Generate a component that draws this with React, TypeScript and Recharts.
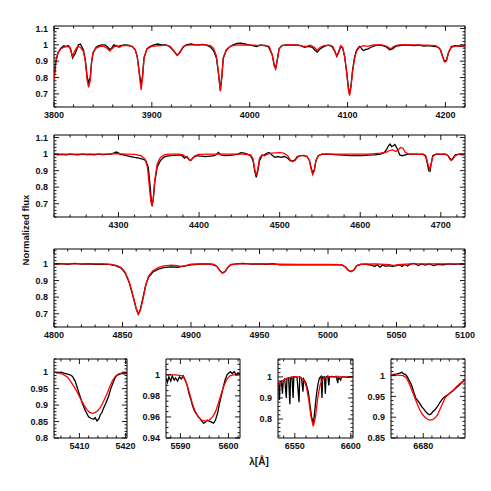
import React from 'react'
import { LineChart, Line, XAxis, YAxis, ReferenceArea } from 'recharts'

// ---- spectra: [wavelength (A), normalized flux] ----

// panel 1, 3800-4220
const obs1 = [
  [3800, 0.8], [3802, 0.9], [3804, 0.95], [3807, 0.98], [3810, 0.995], [3812, 0.99], [3815, 0.995],
  [3817, 0.975], [3819, 0.92], [3822, 0.95], [3825, 1.0], [3827, 1.005], [3830, 0.97], [3832, 0.91],
  [3834, 0.8], [3835.4, 0.77], [3837, 0.8], [3838.5, 0.9], [3840, 0.95], [3843, 0.985], [3846, 0.995],
  [3849, 1.0], [3852, 1.0], [3855, 0.985], [3857, 0.97], [3859, 0.98], [3861, 1.0], [3863, 0.995],
  [3866, 0.99], [3868, 0.995], [3872, 1.0], [3876, 0.998], [3880, 0.99], [3883, 0.97], [3885, 0.93],
  [3887, 0.84], [3889, 0.75], [3890.5, 0.81], [3892, 0.92], [3895, 0.975], [3898, 0.99], [3902, 1.0],
  [3906, 1.005], [3910, 1.0], [3914, 1.0], [3918, 0.99], [3922, 0.965], [3926, 0.935], [3929, 0.955],
  [3932, 0.985], [3935, 1.0], [3940, 1.005], [3944, 1.0], [3948, 1.0], [3952, 1.003], [3956, 0.998],
  [3960, 0.985], [3963, 0.965], [3966, 0.92], [3968, 0.83], [3970, 0.725], [3971.5, 0.81], [3973, 0.92],
  [3976, 0.965], [3979, 0.985], [3983, 1.0], [3987, 1.008], [3991, 1.01], [3995, 1.005], [3999, 1.0],
  [4003, 0.995], [4007, 0.99], [4011, 1.0], [4015, 0.995], [4019, 0.99], [4023, 0.94], [4025, 0.88],
  [4026.5, 0.855], [4028, 0.9], [4030, 0.975], [4033, 0.995], [4037, 1.0], [4042, 0.998], [4047, 1.0],
  [4052, 0.995], [4056, 0.985], [4060, 0.99], [4064, 0.985], [4067, 0.965], [4069, 0.955], [4072, 0.975],
  [4076, 0.99], [4080, 0.998], [4084, 0.99], [4087, 0.96], [4089, 0.93], [4091, 0.955], [4093, 0.99],
  [4095, 0.98], [4097, 0.93], [4099, 0.84], [4101, 0.73], [4102, 0.7], [4103.5, 0.75], [4105, 0.84],
  [4107, 0.92], [4109, 0.965], [4112, 0.99], [4114, 0.98], [4116, 0.965], [4118, 0.97], [4121, 0.975],
  [4124, 0.985], [4128, 0.995], [4132, 0.998], [4136, 0.995], [4140, 0.985], [4143, 0.97], [4146, 0.975],
  [4149, 0.99], [4153, 0.995], [4158, 1.0], [4163, 0.998], [4168, 0.995], [4173, 0.998], [4178, 0.992],
  [4183, 0.995], [4188, 0.99], [4192, 0.988], [4195, 0.97], [4197, 0.93], [4199, 0.9], [4201, 0.905],
  [4203, 0.95], [4206, 0.99], [4210, 0.995], [4215, 0.99], [4220, 0.995],
]
const mod1 = [
  [3800, 0.78], [3802, 0.9], [3804, 0.95], [3807, 0.975], [3810, 0.985], [3813, 0.99], [3816, 0.985],
  [3819, 0.93], [3821, 0.96], [3824, 0.99], [3827, 0.985], [3830, 0.96], [3832, 0.9], [3834, 0.78],
  [3835.4, 0.74], [3837, 0.78], [3838.5, 0.9], [3840, 0.955], [3843, 0.98], [3847, 0.99], [3851, 0.99],
  [3854, 0.98], [3857, 0.962], [3859, 0.975], [3862, 0.99], [3864, 0.99], [3867, 0.985], [3870, 0.995],
  [3875, 0.995], [3880, 0.99], [3883, 0.97], [3885, 0.93], [3887, 0.83], [3889, 0.725], [3890.5, 0.8],
  [3892, 0.92], [3895, 0.975], [3900, 0.99], [3908, 0.995], [3915, 0.998], [3919, 0.99], [3922, 0.965],
  [3926, 0.937], [3929, 0.96], [3932, 0.99], [3936, 0.998], [3945, 1.0], [3955, 1.0], [3960, 0.995],
  [3963, 0.98], [3966, 0.93], [3968, 0.83], [3970, 0.715], [3971.5, 0.8], [3973, 0.92], [3976, 0.97],
  [3980, 0.99], [3985, 0.998], [3995, 1.0], [4005, 0.998], [4010, 0.995], [4015, 0.998], [4020, 0.99],
  [4023, 0.94], [4025, 0.87], [4026.5, 0.853], [4028, 0.9], [4030, 0.975], [4033, 0.995], [4040, 1.0],
  [4050, 0.998], [4055, 0.99], [4058, 0.99], [4062, 0.998], [4066, 0.985], [4069, 0.965], [4072, 0.985],
  [4076, 0.995], [4082, 0.998], [4085, 0.99], [4087, 0.96], [4089, 0.93], [4091, 0.96], [4093, 0.995],
  [4095, 0.985], [4097, 0.93], [4099, 0.83], [4101, 0.72], [4102, 0.69], [4103.5, 0.74], [4105, 0.83],
  [4107, 0.91], [4109, 0.96], [4112, 0.985], [4116, 0.995], [4121, 0.99], [4126, 1.0], [4135, 1.0],
  [4140, 0.99], [4144, 0.975], [4147, 0.99], [4152, 1.0], [4165, 1.0], [4180, 0.998], [4190, 0.995],
  [4194, 0.98], [4197, 0.93], [4199, 0.895], [4201, 0.9], [4203, 0.95], [4206, 0.985], [4210, 0.99],
  [4215, 0.995], [4220, 0.99],
]

// panel 2, 4220-4730
const obs2 = [
  [4220, 1.0], [4225, 0.995], [4230, 0.998], [4235, 0.995], [4240, 1.0], [4245, 0.997], [4250, 0.995],
  [4255, 1.0], [4260, 0.996], [4265, 0.998], [4270, 0.995], [4275, 1.0], [4280, 0.997], [4285, 0.998],
  [4290, 1.0], [4294, 1.005], [4297, 1.012], [4300, 1.008], [4302, 0.998], [4306, 0.995], [4310, 0.99],
  [4315, 0.985], [4320, 0.98], [4325, 0.976], [4330, 0.97], [4334, 0.96], [4337, 0.92], [4339, 0.82],
  [4341, 0.71], [4342, 0.695], [4343, 0.72], [4345, 0.83], [4348, 0.92], [4352, 0.96], [4356, 0.98],
  [4360, 0.988], [4365, 0.99], [4370, 0.992], [4375, 0.995], [4379, 0.99], [4382, 0.975], [4385, 0.985],
  [4388, 0.965], [4390, 0.962], [4393, 0.98], [4397, 0.99], [4402, 0.988], [4408, 0.985], [4414, 0.988],
  [4419, 0.99], [4422, 1.0], [4424, 1.01], [4427, 0.995], [4432, 0.99], [4438, 0.992], [4443, 0.995],
  [4448, 1.0], [4452, 1.008], [4456, 1.005], [4460, 1.0], [4464, 0.99], [4467, 0.96], [4469, 0.9],
  [4471, 0.86], [4473, 0.9], [4475, 0.96], [4478, 0.99], [4481, 0.995], [4484, 1.005], [4487, 1.01],
  [4490, 0.995], [4494, 0.98], [4498, 0.985], [4502, 0.98], [4506, 0.985], [4510, 0.975], [4513, 0.96],
  [4516, 0.958], [4519, 0.965], [4522, 0.985], [4526, 0.99], [4530, 0.992], [4534, 0.985], [4537, 0.96],
  [4539, 0.92], [4541, 0.885], [4543, 0.905], [4545, 0.96], [4548, 0.99], [4552, 0.998], [4558, 1.0],
  [4565, 0.998], [4572, 0.995], [4580, 0.993], [4588, 0.99], [4595, 0.992], [4602, 0.99], [4610, 0.993],
  [4618, 0.995], [4625, 1.0], [4630, 1.01], [4633, 1.03], [4635, 1.05], [4637, 1.06], [4639, 1.045],
  [4641, 1.05], [4643, 1.058], [4645, 1.04], [4647, 1.02], [4649, 0.995], [4652, 0.99], [4656, 0.995],
  [4660, 1.0], [4666, 1.0], [4672, 0.998], [4678, 1.0], [4681, 0.99], [4683, 0.95], [4685, 0.9],
  [4686.5, 0.895], [4688, 0.94], [4690, 0.99], [4694, 1.0], [4700, 0.998], [4706, 1.0], [4709, 0.99],
  [4711, 0.975], [4713, 0.965], [4715, 0.975], [4718, 0.995], [4723, 1.0], [4727, 0.995], [4730, 0.998],
]
const mod2 = [
  [4220, 1.0], [4240, 1.0], [4260, 1.0], [4280, 1.0], [4298, 1.003], [4310, 1.0], [4320, 0.998],
  [4328, 0.99], [4333, 0.97], [4336, 0.92], [4338, 0.82], [4340, 0.72], [4341.5, 0.685], [4343, 0.72],
  [4345, 0.84], [4348, 0.94], [4352, 0.98], [4357, 0.995], [4362, 1.0], [4375, 1.0], [4380, 0.995],
  [4383, 0.985], [4386, 0.975], [4389, 0.96], [4392, 0.975], [4395, 0.99], [4400, 0.998], [4420, 1.0],
  [4440, 1.0], [4455, 1.0], [4464, 0.995], [4467, 0.97], [4469, 0.91], [4471, 0.87], [4473, 0.91],
  [4475, 0.975], [4478, 0.995], [4481, 0.99], [4485, 1.0], [4490, 1.005], [4500, 1.008], [4505, 1.005],
  [4510, 0.99], [4513, 0.965], [4516, 0.955], [4519, 0.96], [4522, 0.98], [4525, 0.99], [4530, 0.99],
  [4534, 0.985], [4537, 0.96], [4539, 0.91], [4541, 0.875], [4543, 0.9], [4545, 0.96], [4548, 0.99],
  [4552, 1.0], [4570, 1.0], [4590, 1.0], [4610, 1.0], [4625, 1.005], [4632, 1.01], [4636, 1.02],
  [4640, 1.025], [4644, 1.015], [4647, 1.025], [4650, 1.04], [4653, 1.035], [4656, 1.01], [4660, 1.0],
  [4670, 1.0], [4678, 0.998], [4682, 0.98], [4684, 0.94], [4686, 0.905], [4688, 0.94], [4690, 0.985],
  [4694, 1.0], [4705, 1.0], [4709, 0.99], [4711, 0.97], [4713, 0.96], [4715, 0.97], [4718, 0.99],
  [4722, 1.0], [4730, 1.0],
]

// panel 3, 4800-5100
const obs3 = [
  [4800, 1.0], [4805, 1.002], [4810, 0.998], [4815, 1.003], [4820, 0.999], [4825, 1.001], [4830, 0.998],
  [4835, 0.999], [4840, 0.997], [4845, 0.99], [4849, 0.975], [4852, 0.945], [4855, 0.885], [4858, 0.795],
  [4860, 0.73], [4861.5, 0.7], [4863, 0.725], [4865, 0.8], [4867, 0.875], [4869, 0.92], [4872, 0.95],
  [4876, 0.968], [4880, 0.978], [4885, 0.982], [4890, 0.98], [4893, 0.984], [4896, 0.988], [4900, 0.995],
  [4905, 0.998], [4910, 1.0], [4915, 0.998], [4919, 0.985], [4921, 0.96], [4923, 0.945], [4925, 0.955],
  [4927, 0.98], [4929, 0.995], [4933, 1.0], [4938, 1.003], [4944, 0.999], [4950, 1.0], [4955, 0.998],
  [4960, 1.001], [4965, 0.994], [4970, 0.995], [4975, 0.996], [4980, 0.994], [4985, 0.995], [4990, 0.996],
  [4995, 0.994], [5000, 0.995], [5005, 0.996], [5010, 0.994], [5013, 0.98], [5015, 0.96], [5017, 0.955],
  [5019, 0.965], [5021, 0.99], [5024, 0.997], [5028, 0.998], [5032, 0.992], [5034, 0.985], [5036, 0.995],
  [5038, 0.98], [5040, 0.993], [5042, 0.985], [5044, 0.99], [5047, 0.985], [5049, 0.988], [5052, 0.995],
  [5054, 0.985], [5056, 0.997], [5058, 0.988], [5060, 0.999], [5063, 1.003], [5066, 0.99], [5068, 1.0],
  [5071, 0.993], [5074, 1.0], [5077, 0.99], [5080, 0.998], [5084, 0.995], [5088, 1.0], [5092, 0.997],
  [5096, 1.0], [5100, 0.998],
]
const mod3 = [
  [4800, 1.0], [4820, 1.0], [4835, 1.0], [4842, 0.997], [4846, 0.99], [4849, 0.978], [4852, 0.95],
  [4855, 0.89], [4858, 0.8], [4860, 0.73], [4861.5, 0.695], [4863, 0.72], [4865, 0.79], [4867, 0.87],
  [4869, 0.925], [4872, 0.958], [4876, 0.978], [4880, 0.988], [4886, 0.993], [4890, 0.99], [4893, 0.985],
  [4896, 0.99], [4900, 0.998], [4910, 1.0], [4917, 0.998], [4919, 0.985], [4921, 0.96], [4923, 0.943],
  [4925, 0.955], [4927, 0.98], [4929, 0.997], [4935, 1.0], [4950, 1.0], [4965, 0.998], [4980, 0.997],
  [5000, 0.997], [5010, 0.995], [5013, 0.98], [5015, 0.96], [5017, 0.953], [5019, 0.965], [5021, 0.99],
  [5024, 0.998], [5035, 1.0], [5045, 0.995], [5048, 0.99], [5051, 0.995], [5060, 1.0], [5080, 1.0],
  [5100, 1.0],
]

// panel A, HeII 5411
const obsA = [
  [5404.5, 1.0], [5405.2, 0.998], [5406, 1.0], [5406.8, 0.996], [5407.4, 0.994], [5408, 0.992],
  [5408.5, 0.987], [5409.1, 0.972], [5409.5, 0.955], [5409.9, 0.937], [5410.3, 0.92], [5410.6, 0.906],
  [5411, 0.893], [5411.3, 0.883], [5411.7, 0.872], [5412, 0.864], [5412.5, 0.86], [5413.1, 0.857],
  [5413.4, 0.862], [5413.8, 0.852], [5414.2, 0.858], [5414.5, 0.87], [5414.9, 0.878], [5415.2, 0.89],
  [5415.7, 0.905], [5416.3, 0.926], [5416.8, 0.95], [5417.4, 0.972], [5417.8, 0.985], [5418.1, 0.99],
  [5418.6, 0.993], [5419.2, 0.996], [5419.8, 0.995], [5420.3, 0.997],
]
const modA = [
  [5404.5, 1.0], [5405.5, 0.998], [5406.5, 0.993], [5407.4, 0.985], [5408.1, 0.972], [5408.8, 0.957],
  [5409.5, 0.94], [5410.2, 0.92], [5410.9, 0.902], [5411.6, 0.886], [5412.2, 0.878], [5412.8, 0.875],
  [5413.4, 0.877], [5413.9, 0.882], [5414.5, 0.892], [5415, 0.905], [5415.5, 0.92], [5416, 0.935],
  [5416.6, 0.957], [5417.2, 0.975], [5417.8, 0.988], [5418.5, 0.995], [5419.3, 0.998], [5420.3, 0.999],
]

// panel B, OIII 5592
const obsB = [
  [5587, 0.997], [5587.3, 0.993], [5587.6, 0.998], [5588, 0.994], [5588.3, 0.999], [5588.7, 0.995],
  [5589, 0.997], [5589.4, 0.994], [5589.8, 0.998], [5590.2, 0.996], [5590.6, 0.999], [5591, 0.995],
  [5591.4, 0.99], [5591.8, 0.982], [5592.1, 0.978], [5592.5, 0.971], [5592.9, 0.966], [5593.3, 0.963],
  [5593.8, 0.96], [5594.3, 0.957], [5594.8, 0.954], [5595.2, 0.955], [5595.6, 0.957], [5596, 0.956],
  [5596.5, 0.955], [5596.9, 0.954], [5597.3, 0.957], [5597.7, 0.963], [5598.1, 0.972], [5598.5, 0.98],
  [5598.9, 0.988], [5599.3, 0.995], [5599.7, 1.0], [5600.1, 1.002], [5600.4, 1.003], [5600.8, 1.001],
  [5601.2, 1.003], [5601.6, 1.0], [5602, 1.002], [5602.4, 1.001],
]
const modB = [
  [5587, 1.0], [5589, 1.0], [5590.5, 0.999], [5591.2, 0.993], [5591.8, 0.984], [5592.4, 0.974],
  [5593, 0.966], [5593.7, 0.96], [5594.4, 0.957], [5595.2, 0.956], [5596, 0.957], [5596.7, 0.96],
  [5597.3, 0.965], [5597.9, 0.973], [5598.5, 0.982], [5599.1, 0.99], [5599.7, 0.996], [5600.3, 0.999],
  [5601, 1.0], [5602.4, 1.0],
]

// panel C, H-alpha (black has telluric lines)
const obsC = [
  [6535, 0.97], [6535.8, 0.965], [6536.3, 0.89], [6536.8, 0.975], [6538, 0.98], [6539, 0.92], [6539.6, 0.98],
  [6541, 0.99], [6542.4, 0.9], [6543, 0.99], [6544.5, 0.995], [6545.6, 0.87], [6546.2, 0.995],
  [6547.5, 0.998], [6548.5, 0.9], [6549.1, 1.0], [6550.5, 1.0], [6552, 0.998], [6553.8, 0.88],
  [6554.4, 1.0], [6556, 0.995], [6557.3, 0.93], [6557.9, 0.99], [6560, 0.97], [6562, 0.93], [6563.5, 0.87],
  [6565, 0.81], [6566.5, 0.78], [6567.5, 0.82], [6569, 0.9], [6570.5, 0.96], [6572, 0.995],
  [6573.5, 1.003], [6574.3, 0.9], [6574.9, 1.0], [6576.5, 1.0], [6577.3, 0.92], [6577.9, 1.0],
  [6579.5, 1.004], [6580.4, 0.96], [6581, 1.0], [6583, 1.002], [6585, 1.0], [6587, 1.003],
  [6588.4, 0.97], [6589, 1.0], [6591, 0.985], [6591.6, 1.0], [6594, 1.0], [6597, 0.998], [6600, 1.0],
  [6602, 1.0],
]
const modC = [
  [6535, 0.955], [6537, 0.97], [6540, 0.985], [6544, 0.995], [6548, 1.0], [6553, 1.0], [6556, 0.995],
  [6558.5, 0.98], [6560.5, 0.95], [6562.5, 0.89], [6564.5, 0.81], [6566.5, 0.765], [6568.5, 0.81],
  [6570.5, 0.9], [6572.5, 0.96], [6575, 0.99], [6579, 1.0], [6590, 1.0], [6602, 1.0],
]

// panel D, HeI 6678
const obsD = [
  [6672.6, 1.002], [6673.3, 1.003], [6674, 1.004], [6674.6, 1.006], [6675.1, 1.008], [6675.5, 1.004],
  [6675.9, 1.003], [6676.3, 0.998], [6676.7, 0.99], [6677.1, 0.982], [6677.5, 0.972], [6677.9, 0.958],
  [6678.3, 0.946], [6678.8, 0.939], [6679.2, 0.933], [6679.7, 0.925], [6680.1, 0.92], [6680.6, 0.913],
  [6681, 0.909], [6681.4, 0.906], [6681.8, 0.908], [6682.2, 0.913], [6682.7, 0.918], [6683.2, 0.925],
  [6683.7, 0.933], [6684.2, 0.941], [6684.7, 0.947], [6685.2, 0.951], [6685.8, 0.955], [6686.4, 0.96],
  [6687, 0.965], [6687.6, 0.971], [6688.2, 0.976], [6688.8, 0.983], [6689.6, 0.99],
]
const modD = [
  [6672.6, 1.002], [6674, 1.001], [6675.4, 1.0], [6676.2, 0.994], [6676.9, 0.978], [6677.5, 0.962],
  [6678.1, 0.946], [6678.7, 0.93], [6679.2, 0.918], [6679.8, 0.907], [6680.4, 0.9], [6681, 0.895],
  [6681.5, 0.893], [6682.1, 0.894], [6682.7, 0.898], [6683.3, 0.906], [6683.8, 0.918], [6684.4, 0.932],
  [6685, 0.946], [6685.6, 0.953], [6686.1, 0.958], [6687, 0.966], [6687.7, 0.974], [6688.6, 0.982],
  [6689.6, 0.99],
]

// ---- axis ticks ----
const x1Major = [3800, 3900, 4000, 4100, 4200]
const x2Major = [4300, 4400, 4500, 4600, 4700]
const x3Major = [4800, 4850, 4900, 4950, 5000, 5050, 5100]
const xAMajor = [5410, 5420]
const xBMajor = [5590, 5600]
const xCMajor = [6550, 6600]
const xDMajor = [6680]
const yWideMajor = [0.7, 0.8, 0.9, 1, 1.1]
const y3Major = [0.7, 0.8, 0.9, 1]
const yAMajor = [0.8, 0.85, 0.9, 0.95, 1]
const yBMajor = [0.94, 0.96, 0.98, 1]
const yCMajor = [0.8, 0.9, 1]
const yDMajor = [0.85, 0.9, 0.95, 1]

const FONT = "'Liberation Sans', Arial, Helvetica, sans-serif"

const steps = (a: number, b: number, s: number) => {
  const out: number[] = []
  for (let v = a; v <= b + s / 1000; v += s) out.push(Math.round(v * 10000) / 10000)
  return out
}

const merge = (major: number[], minor: number[]) =>
  Array.from(new Set([...minor, ...major])).sort((p, q) => p - q)

const xTick = (major: number[], h: number) => (props: any) => {
  const { x, y, payload } = props
  const big = major.includes(payload.value)
  const len = big ? 5 : 2.5
  return (
    <g>
      <line x1={x} x2={x} y1={y} y2={y - len} stroke="#000" strokeWidth={0.9} />
      <line x1={x} x2={x} y1={y - h} y2={y - h + len} stroke="#000" strokeWidth={0.9} />
      {big && (
        <text x={x} y={y + 11} textAnchor="middle" fontSize={9} fontWeight="bold" fontFamily={FONT} fill="#111">
          {payload.value}
        </text>
      )}
    </g>
  )
}

const yTick = (major: number[], w: number) => (props: any) => {
  const { x, y, payload } = props
  const big = major.includes(payload.value)
  const len = big ? 5 : 2.5
  return (
    <g>
      <line x1={x} x2={x + len} y1={y} y2={y} stroke="#000" strokeWidth={0.9} />
      <line x1={x + w} x2={x + w - len} y1={y} y2={y} stroke="#000" strokeWidth={0.9} />
      {big && (
        <text x={x - 6} y={y + 3.2} textAnchor="end" fontSize={9} fontWeight="bold" fontFamily={FONT} fill="#111">
          {payload.value}
        </text>
      )}
    </g>
  )
}

interface PanelProps {
  left: number
  top: number
  w: number
  h: number
  xDom: [number, number]
  yDom: [number, number]
  xMajor: number[]
  xMinor: number[]
  yMajor: number[]
  yMinor: number[]
  obs: number[][]
  mod: number[][]
}

const PL = 45
const PR = 18
const PT = 5
const PB = 22

const Panel: React.FC<PanelProps> = ({ left, top, w, h, xDom, yDom, xMajor, xMinor, yMajor, yMinor, obs, mod }) => {
  const obsData = obs.map(([wl, f]) => ({ wl, f }))
  const modData = mod.map(([wl, f]) => ({ wl, f }))
  return (
    <div style={{ position: 'absolute', left: left - PL, top: top - PT }}>
      <LineChart width={w + PL + PR} height={h + PT + PB} margin={{ top: PT, right: PR, left: 0, bottom: 0 }}>
        <XAxis
          dataKey="wl"
          type="number"
          domain={xDom}
          allowDataOverflow
          ticks={merge(xMajor, xMinor)}
          interval={0}
          height={PB}
          tickSize={0}
          tickMargin={0}
          axisLine={false}
          tickLine={false}
          tick={xTick(xMajor, h)}
        />
        <YAxis
          type="number"
          domain={yDom}
          allowDataOverflow
          ticks={merge(yMajor, yMinor)}
          interval={0}
          width={PL}
          tickSize={0}
          tickMargin={0}
          axisLine={false}
          tickLine={false}
          tick={yTick(yMajor, w)}
        />
        <Line data={obsData} dataKey="f" type="linear" stroke="#000" strokeWidth={1.3} dot={false} isAnimationActive={false} />
        <Line data={modData} dataKey="f" type="linear" stroke="#ff0000" strokeWidth={1.3} dot={false} isAnimationActive={false} />
        <ReferenceArea x1={xDom[0]} x2={xDom[1]} y1={yDom[0]} y2={yDom[1]} fill="none" stroke="#000" strokeWidth={1} ifOverflow="visible" />
      </LineChart>
    </div>
  )
}

export default function App() {
  return (
    <div style={{ position: 'absolute', left: 0, top: 0, width: 491, height: 491, background: '#fff', overflow: 'hidden' }}>
      <Panel left={54} top={26} w={411} h={81} xDom={[3800, 4220]} yDom={[0.62, 1.115]}
        xMajor={x1Major} xMinor={steps(3800, 4220, 20)} yMajor={yWideMajor} yMinor={steps(0.62, 1.1, 0.02)}
        obs={obs1} mod={mod1} />
      <Panel left={54} top={135} w={411} h={82} xDom={[4220, 4730]} yDom={[0.62, 1.115]}
        xMajor={x2Major} xMinor={steps(4220, 4720, 20)} yMajor={yWideMajor} yMinor={steps(0.62, 1.1, 0.02)}
        obs={obs2} mod={mod2} />
      <Panel left={54} top={249} w={411} h={78} xDom={[4800, 5100]} yDom={[0.62, 1.09]}
        xMajor={x3Major} xMinor={steps(4800, 5100, 10)} yMajor={y3Major} yMinor={steps(0.62, 1.08, 0.02)}
        obs={obs3} mod={mod3} />
      <Panel left={54} top={359} w={73} h={79} xDom={[5404.5, 5420.3]} yDom={[0.8, 1.04]}
        xMajor={xAMajor} xMinor={steps(5406, 5420, 2)} yMajor={yAMajor} yMinor={steps(0.8, 1.04, 0.01)}
        obs={obsA} mod={modA} />
      <Panel left={166} top={359} w={74} h={79} xDom={[5587, 5602.4]} yDom={[0.94, 1.015]}
        xMajor={xBMajor} xMinor={steps(5588, 5602, 2)} yMajor={yBMajor} yMinor={steps(0.94, 1.01, 0.005)}
        obs={obsB} mod={modB} />
      <Panel left={278} top={359} w={75} h={79} xDom={[6535, 6602]} yDom={[0.71, 1.085]}
        xMajor={xCMajor} xMinor={steps(6540, 6600, 10)} yMajor={yCMajor} yMinor={steps(0.72, 1.08, 0.02)}
        obs={obsC} mod={modC} />
      <Panel left={391} top={359} w={74} h={79} xDom={[6672.6, 6689.6]} yDom={[0.85, 1.04]}
        xMajor={xDMajor} xMinor={steps(6674, 6688, 2)} yMajor={yDMajor} yMinor={steps(0.85, 1.04, 0.01)}
        obs={obsD} mod={modD} />
      <svg width={491} height={491} style={{ position: 'absolute', left: 0, top: 0, pointerEvents: 'none' }}>
        <text x={29} y={230} transform="rotate(-90 29 230)" textAnchor="middle" fontSize={9.5} fontWeight="bold" fontFamily={FONT} fill="#111">
          Normalized flux
        </text>
        <text x={259} y={465} textAnchor="middle" fontSize={10} fontWeight="bold" fontFamily={FONT} fill="#111">
          λ[Å]
        </text>
      </svg>
    </div>
  )
}
